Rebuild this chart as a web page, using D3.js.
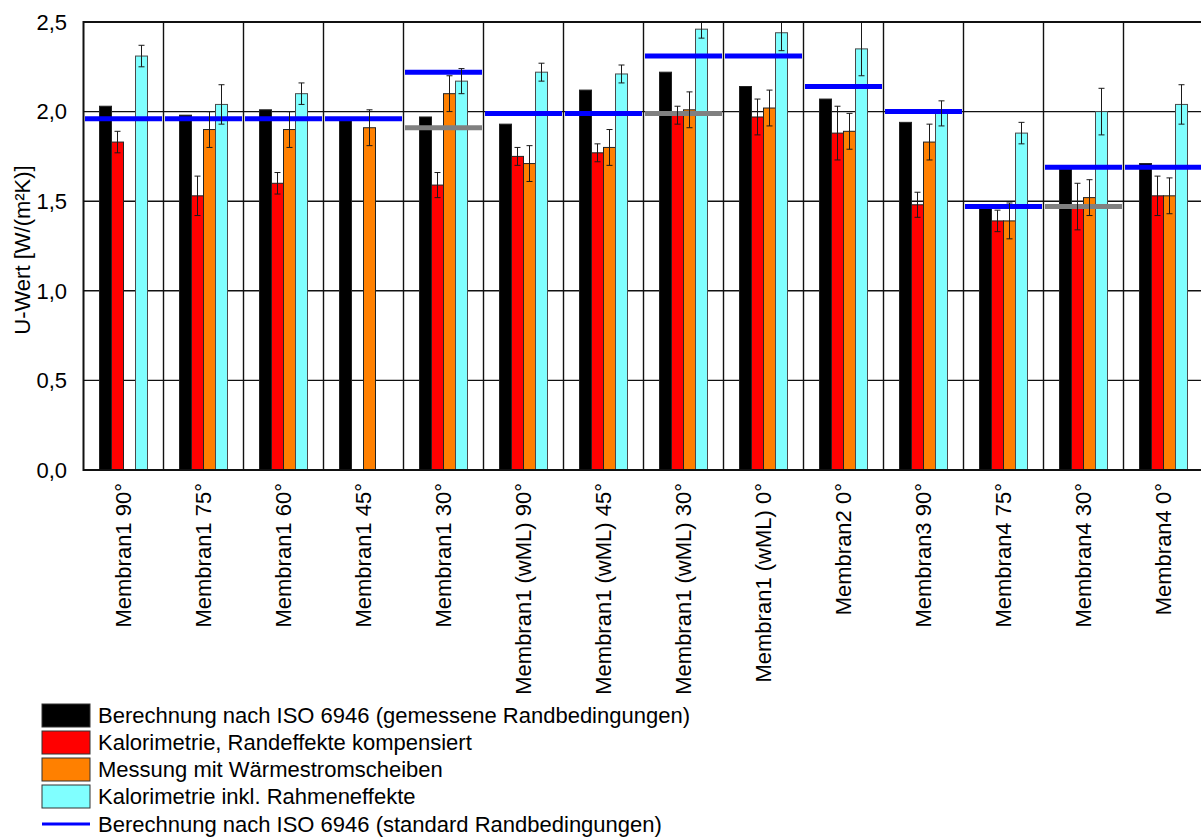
<!DOCTYPE html>
<html>
<head>
<meta charset="utf-8">
<script src="https://cdn.jsdelivr.net/npm/d3@7"></script>
<style>
  html, body { margin: 0; padding: 0; background: #fff; }
  svg { display: block; font-family: Arial, "Liberation Sans", sans-serif; }
</style>
</head>
<body>
<svg id="chart" width="1201" height="837"></svg>
<script>
// Test cases (membrane / inclination)
const categories = [
  "Membran1 90°", "Membran1 75°", "Membran1 60°", "Membran1 45°", "Membran1 30°",
  "Membran1 (wML) 90°", "Membran1 (wML) 45°", "Membran1 (wML) 30°", "Membran1 (wML) 0°",
  "Membran2 0°", "Membran3 90°", "Membran4 75°", "Membran4 30°", "Membran4 0°"
];

// U-values in W/(m²K); null = not measured
const isoMeasured   = [2.03, 1.98, 2.01, 1.95, 1.97, 1.93, 2.12, 2.22, 2.14, 2.07, 1.94, 1.46, 1.68, 1.71];
const calorimetry   = [1.83, 1.53, 1.60, null, 1.59, 1.75, 1.77, 1.98, 1.97, 1.88, 1.48, 1.39, 1.47, 1.53];
const calorimetryErr= [0.06, 0.11, 0.06, null, 0.07, 0.05, 0.05, 0.05, 0.10, 0.15, 0.07, 0.06, 0.13, 0.11];
const heatFlux      = [null, 1.90, 1.90, 1.91, 2.10, 1.71, 1.80, 2.01, 2.02, 1.89, 1.83, 1.39, 1.52, 1.53];
const heatFluxErr   = [null, 0.10, 0.10, 0.10, 0.10, 0.10, 0.10, 0.10, 0.10, 0.10, 0.10, 0.10, 0.10, 0.10];
const withFrame     = [2.31, 2.04, 2.10, null, 2.17, 2.22, 2.21, 2.46, 2.44, 2.35, 1.99, 1.88, 2.00, 2.04];
const withFrameErr  = [0.06, 0.11, 0.06, null, 0.07, 0.05, 0.05, 0.05, 0.10, 0.15, 0.07, 0.06, 0.13, 0.11];

// Reference lines per case
const isoStandard   = [1.96, 1.96, 1.96, 1.96, 2.22, 1.99, 1.99, 2.31, 2.31, 2.14, 2.00, 1.47, 1.69, 1.69];
const isoAlternate  = [null, null, null, null, 1.91, null, null, 1.99, null, null, null, null, 1.47, null];

const yTicks = [0, 0.5, 1.0, 1.5, 2.0, 2.5];

const seriesNames = [
  "Berechnung nach ISO 6946 (gemessene Randbedingungen)",
  "Kalorimetrie, Randeffekte kompensiert",
  "Messung mit Wärmestromscheiben",
  "Kalorimetrie inkl. Rahmeneffekte"
];
const lineName = "Berechnung nach ISO 6946 (standard Randbedingungen)";
const colors = ["#000000", "#ff0000", "#ff8000", "#80ffff"];

const series = [
  { values: isoMeasured, errors: null },
  { values: calorimetry, errors: calorimetryErr },
  { values: heatFlux, errors: heatFluxErr },
  { values: withFrame, errors: withFrameErr }
];

const svg = d3.select("#chart");
const plot = { left: 83.5, right: 1203.5, top: 22, bottom: 470 };
const fontSize = 22;

const x = d3.scaleBand().domain(categories).range([plot.left, plot.right]).padding(0);
const xs = d3.scaleBand().domain(d3.range(series.length)).range([0.2 * x.bandwidth(), 0.8 * x.bandwidth()]).padding(0);
const y = d3.scaleLinear().domain([0, 2.5]).range([plot.bottom, plot.top]);

svg.append("defs").append("clipPath").attr("id", "plotclip")
  .append("rect")
  .attr("x", plot.left).attr("y", plot.top)
  .attr("width", plot.right - plot.left).attr("height", plot.bottom - plot.top);

// horizontal grid
svg.append("g").selectAll("line").data(yTicks.slice(1, -1)).join("line")
  .attr("x1", plot.left).attr("x2", plot.right)
  .attr("y1", d => y(d)).attr("y2", d => y(d))
  .attr("stroke", "#111").attr("stroke-width", 1.4);

// vertical group separators
svg.append("g").selectAll("line").data(categories.slice(1)).join("line")
  .attr("x1", d => x(d)).attr("x2", d => x(d))
  .attr("y1", plot.top).attr("y2", plot.bottom)
  .attr("stroke", "#111").attr("stroke-width", 1.4);

// bars
const barData = [];
series.forEach((s, si) => s.values.forEach((v, ci) => {
  if (v != null) barData.push({ si, ci, v, e: s.errors ? s.errors[ci] : null });
}));

svg.append("g").selectAll("rect").data(barData).join("rect")
  .attr("x", d => x(categories[d.ci]) + xs(d.si))
  .attr("y", d => y(d.v))
  .attr("width", xs.bandwidth())
  .attr("height", d => y(0) - y(d.v))
  .attr("fill", d => colors[d.si])
  .attr("stroke", d => d.si === 3 ? "#4a4a4a" : "#222")
  .attr("stroke-width", 1);

// reference lines
function refLines(values, color) {
  const data = values.map((v, i) => ({ v, i })).filter(d => d.v != null);
  svg.append("g").attr("clip-path", "url(#plotclip)")
    .selectAll("line").data(data).join("line")
    .attr("x1", d => x(categories[d.i]) + 1.5)
    .attr("x2", d => x(categories[d.i]) + x.bandwidth() - 1.5)
    .attr("y1", d => y(d.v)).attr("y2", d => y(d.v))
    .attr("stroke", color).attr("stroke-width", 5);
}
refLines(isoAlternate, "#808080");
refLines(isoStandard, "#0000ff");

// error bars
const errG = svg.append("g").attr("clip-path", "url(#plotclip)");
const errData = barData.filter(d => d.e != null);
const cx = d => x(categories[d.ci]) + xs(d.si) + xs.bandwidth() / 2;
errG.selectAll("line.stem").data(errData).join("line").attr("class", "stem")
  .attr("x1", cx).attr("x2", cx)
  .attr("y1", d => y(d.v + d.e)).attr("y2", d => y(d.v - d.e))
  .attr("stroke", "#1a1a1a").attr("stroke-width", 1);
["top", "bot"].forEach(k => {
  errG.selectAll("line.cap" + k).data(errData).join("line").attr("class", "cap" + k)
    .attr("x1", d => cx(d) - 3).attr("x2", d => cx(d) + 3)
    .attr("y1", d => y(k === "top" ? d.v + d.e : d.v - d.e))
    .attr("y2", d => y(k === "top" ? d.v + d.e : d.v - d.e))
    .attr("stroke", "#1a1a1a").attr("stroke-width", 1);
});

// frame
svg.append("rect")
  .attr("x", plot.left).attr("y", plot.top)
  .attr("width", plot.right - plot.left).attr("height", plot.bottom - plot.top)
  .attr("fill", "none").attr("stroke", "#111").attr("stroke-width", 2);

// y tick labels
const fmt = d => d3.format(".1f")(d).replace(".", ",");
svg.append("g").selectAll("text").data(yTicks).join("text")
  .attr("x", 67).attr("y", d => y(d)).attr("dy", "0.35em")
  .attr("text-anchor", "end").attr("font-size", fontSize).attr("fill", "#000")
  .text(fmt);

// y axis title
svg.append("text")
  .attr("transform", "translate(22," + ((plot.top + plot.bottom) / 2 + 4) + ") rotate(-90)")
  .attr("text-anchor", "middle").attr("dy", "0.35em")
  .attr("font-size", fontSize).text("U-Wert [W/(m²K)]");

// category labels
svg.append("g").selectAll("text").data(categories).join("text")
  .attr("transform", d => "translate(" + (x(d) + x.bandwidth() / 2) + "," + 483 + ") rotate(-90)")
  .attr("text-anchor", "end").attr("dy", "0.35em")
  .attr("font-size", fontSize).text(d => d);

// legend
const legend = svg.append("g").attr("transform", "translate(42,704)");
seriesNames.forEach((name, i) => {
  legend.append("rect")
    .attr("x", 0).attr("y", i * 27).attr("width", 48).attr("height", 23)
    .attr("fill", colors[i]).attr("stroke", "#333").attr("stroke-width", 1);
  legend.append("text")
    .attr("x", 56).attr("y", i * 27 + 11.5).attr("dy", "0.35em")
    .attr("font-size", fontSize).text(name);
});
legend.append("line")
  .attr("x1", 0).attr("x2", 48).attr("y1", 4 * 27 + 12).attr("y2", 4 * 27 + 12)
  .attr("stroke", "#0000ff").attr("stroke-width", 3);
legend.append("text")
  .attr("x", 56).attr("y", 4 * 27 + 12).attr("dy", "0.35em")
  .attr("font-size", fontSize).text(lineName);
</script>
</body>
</html>
